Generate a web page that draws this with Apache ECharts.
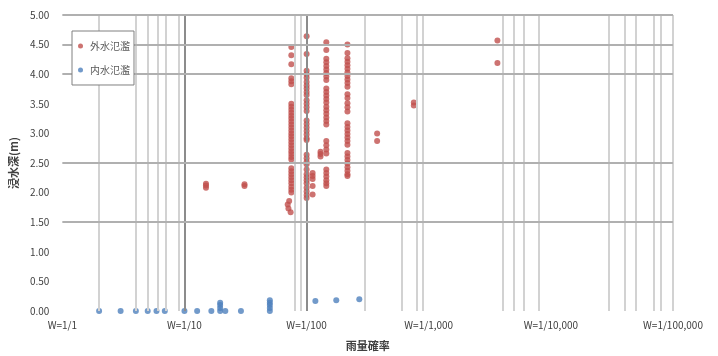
<!DOCTYPE html>
<html>
<head>
<meta charset="utf-8">
<script src="https://cdn.jsdelivr.net/npm/echarts@6/dist/echarts.min.js"></script>
<style>
html,body{margin:0;padding:0;background:#fff;}
#chart{width:718px;height:356px;}
</style>
</head>
<body>
<div id="chart"></div>
<script>
// ---- data ----
const seriesNames = ['外水氾濫', '内水氾濫'];
const tickLabels = ['W=1/1', 'W=1/10', 'W=1/100', 'W=1/1,000', 'W=1/10,000', 'W=1/100,000'];
const xAxisName = '雨量確率';
const yAxisName = '浸水深(m)';

// 外水氾濫 (return period, depth m)
const outerX = [
  15,15,15,
  31,31,
  75,75,75,75,75,75,75,75,75,75,75,75,75,75,75,75,75,75,75,75,75,75,75,75,75,75,75,75,75,75,75,75,75,75,75,72,70,71,74,
  100,100,100,100,100,100,100,100,100,100,100,100,100,100,100,100,100,100,100,100,100,100,100,100,100,100,100,100,100,100,100,100,100,100,
  112,112,112,112,112,
  130,130,130,
  145,145,145,145,145,145,145,145,145,145,145,145,145,145,145,145,145,145,145,145,145,145,145,145,145,145,145,145,145,145,
  216,216,216,216,216,216,216,216,216,216,216,216,216,216,216,216,216,216,216,216,216,216,216,216,216,216,216,216,216,216,216,
  378,378,
  755,755,
  3650,3650
];
const outerY = [
  2.08,2.12,2.15,
  2.11,2.14,
  4.46,4.32,4.17,3.93,3.88,3.83,3.50,3.45,3.40,3.35,3.30,3.25,3.20,3.15,3.10,3.05,3.00,2.95,2.90,2.85,2.80,2.75,2.70,2.65,2.60,2.56,2.41,2.36,2.31,2.26,2.21,2.16,2.10,2.05,2.00,1.86,1.80,1.73,1.67,
  4.64,4.34,4.06,4.00,3.94,3.87,3.81,3.76,3.70,3.65,3.56,3.50,3.44,3.38,3.22,3.16,3.10,3.04,2.98,2.92,2.89,2.64,2.58,2.52,2.48,2.39,2.31,2.26,2.21,2.16,2.08,2.02,1.96,1.91,
  2.33,2.28,2.23,2.11,1.97,
  2.69,2.65,2.61,
  4.54,4.41,4.26,4.20,4.14,4.08,4.02,3.96,3.90,3.76,3.70,3.64,3.58,3.52,3.45,3.39,3.33,3.27,3.21,3.15,2.87,2.80,2.73,2.66,2.39,2.33,2.27,2.21,2.16,2.11,
  4.50,4.36,4.27,4.21,4.15,4.09,4.03,3.97,3.91,3.85,3.79,3.66,3.60,3.51,3.44,3.37,3.17,3.11,3.05,2.99,2.93,2.87,2.81,2.67,2.61,2.55,2.49,2.43,2.37,2.31,2.28,
  3.00,2.87,
  3.52,3.47,
  4.57,4.19
];

// 内水氾濫
const innerX = [2,3,4,5,5.9,6.9,10,12.7,16.6,19.6,19.6,19.6,19.6,21.6,29,50,50,50,50,50,118,175,270];
const innerY = [0,0,0,0,0,0,0,0,0,0,0.05,0.10,0.14,0,0,0,0.05,0.10,0.14,0.18,0.17,0.18,0.20];

// visible grid lines (data-space values)
const hGrid = [1.5, 2.5, 4.0, 4.5, 5.0];
const vGridLight = [2,4,5,6,7,9,80,90,300,600,800,900,4000,5000,6000,8000,30000,40000,50000,70000,80000,100000];
const vGridDark = [10, 100];

// ---- chart ----
const zip = (xs, ys) => xs.map((x, i) => [x, ys[i]]);
const chart = echarts.init(document.getElementById('chart'), null, {renderer: 'canvas'});
const font = '"Noto Sans CJK JP", "Noto Sans", sans-serif';

chart.setOption({
  animation: false,
  backgroundColor: '#ffffff',
  grid: {left: 58, right: 45, top: 15, bottom: 38, containLabel: false},
  legend: {
    orient: 'vertical',
    left: 72, top: 31,
    zlevel: 1, z: 10,
    data: seriesNames,
    icon: 'circle',
    itemWidth: 5, itemHeight: 5,
    itemGap: 14,
    padding: [10, 4, 10, 6],
    backgroundColor: '#ffffff',
    borderColor: '#808080', borderWidth: 1,
    textStyle: {fontSize: 10, color: '#595959', fontFamily: font, padding: [0, 0, 0, 2]}
  },
  xAxis: {
    type: 'log', logBase: 10, min: 1, max: 100000,
    name: xAxisName, nameLocation: 'middle', nameGap: 29,
    nameTextStyle: {fontSize: 11, fontWeight: 'bold', color: '#404040', fontFamily: font},
    axisLine: {show: false}, axisTick: {show: false},
    splitLine: {show: false}, minorTick: {show: false},
    axisLabel: {
      fontSize: 10, color: '#404040', margin: 9, fontFamily: font,
      formatter: v => tickLabels[Math.round(Math.log10(v))] || ''
    }
  },
  yAxis: {
    type: 'value', min: 0, max: 5, interval: 0.5,
    name: yAxisName, nameLocation: 'middle', nameGap: 38, nameRotate: 90,
    nameTextStyle: {fontSize: 11, fontWeight: 'bold', color: '#404040', fontFamily: font},
    axisLine: {show: false}, axisTick: {show: false},
    splitLine: {show: false},
    axisLabel: {fontSize: 10, color: '#404040', margin: 13, fontFamily: font,
      formatter: v => v.toFixed(2)}
  },
  series: [
    {
      name: 'grid', type: 'scatter', data: [], z: 1, silent: true,
      markLine: {
        silent: true, symbol: 'none', animation: false,
        label: {show: false},
        data: [
          ...vGridLight.map(v => ({xAxis: v, lineStyle: {color: '#d2d2d2', width: 2, type: 'solid'}})),
          ...vGridDark.map(v => ({xAxis: v, lineStyle: {color: '#8c8c8c', width: 2, type: 'solid'}})),
          ...hGrid.map(v => ({yAxis: v, lineStyle: {color: '#b0b0b0', width: 2, type: 'solid'}}))
        ]
      }
    },
    {
      name: seriesNames[0], type: 'scatter', z: 3,
      symbol: 'circle', symbolSize: 6,
      itemStyle: {color: '#c0504d'},
      data: zip(outerX, outerY)
    },
    {
      name: seriesNames[1], type: 'scatter', z: 3,
      symbol: 'circle', symbolSize: 6,
      itemStyle: {color: '#4f81bd'},
      data: zip(innerX, innerY)
    }
  ]
});
</script>
</body>
</html>
